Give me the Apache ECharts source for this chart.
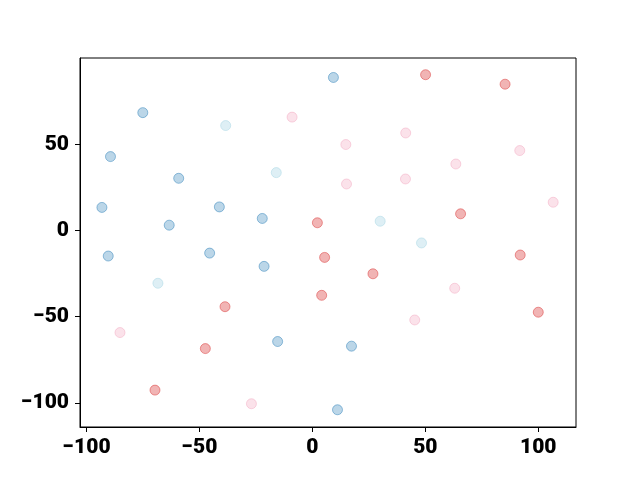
<!DOCTYPE html>
<html>
<head>
<meta charset="utf-8">
<script src="https://cdn.jsdelivr.net/npm/echarts@6/dist/echarts.min.js"></script>
<style>html,body{margin:0;padding:0;background:#fff}#c{width:640px;height:480px}</style>
</head>
<body>
<div id="c"></div>
<script>
const blueX = [9.3, -75.1, -89.4, -59.2, -93.2, -41.2, -22.2, -63.4, -90.4, -45.5, -21.4, -15.4, 17.3, 11.1];
const blueY = [88.8, 68.4, 42.9, 30.3, 13.4, 13.7, 7.0, 3.1, -14.8, -13.1, -20.8, -64.4, -67.1, -104.0];
const cyanX = [-38.4, -16.0, 30.0, 48.3, -68.4];
const cyanY = [60.9, 33.6, 5.4, -7.2, -30.6];
const redX = [50.1, 85.3, 2.2, 65.6, 5.4, 26.8, 4.1, -38.7, 92.0, 100.0, -47.4, -69.7];
const redY = [90.4, 84.9, 4.5, 9.7, -15.6, -25.1, -37.6, -44.2, -14.2, -47.4, -68.5, -92.6];
const pinkX = [-9.0, 14.8, 41.3, 63.5, 91.8, 15.1, 41.2, 106.6, 63.0, 45.3, -85.2, -27.0];
const pinkY = [65.8, 49.9, 56.6, 38.6, 46.4, 27.0, 29.9, 16.4, -33.5, -51.9, -59.2, -100.5];
const xTicks = [-100, -50, 0, 50, 100];
const yTicks = [-100, -50, 0, 50];

function pts(xs, ys) { return xs.map((x, i) => [x, ys[i]]); }
const font = {color: '#000', fontFamily: 'Roboto', fontWeight: 900, fontSize: 21};
function mk(name, xs, ys, fill, edge) {
  return {
    name: name, type: 'scatter', symbol: 'circle', symbolSize: 10,
    data: pts(xs, ys),
    itemStyle: {color: fill, borderColor: edge, borderWidth: 1, opacity: 1},
    emphasis: {disabled: true}, animation: false
  };
}
const chart = echarts.init(document.getElementById('c'), null, {renderer: 'canvas'});
chart.setOption({
  animation: false,
  backgroundColor: '#fff',
  grid: {left: 80, right: 64, top: 58, bottom: 53, show: true, borderColor: '#000', borderWidth: 1, backgroundColor: 'transparent'},
  xAxis: {
    type: 'value', min: -102.9, max: 116.7,
    splitLine: {show: false},
    axisLine: {show: true, onZero: false, lineStyle: {color: '#000', width: 1}},
    axisTick: {show: true, length: 5, lineStyle: {color: '#000'}, customValues: xTicks},
    axisLabel: Object.assign({margin: 10, customValues: xTicks, formatter: v => String(v).replace('-', '\u2212')}, font)
  },
  yAxis: {
    type: 'value', min: -114.0, max: 100.1,
    splitLine: {show: false},
    axisLine: {show: true, onZero: false, lineStyle: {color: '#000', width: 1}},
    axisTick: {show: true, length: 5, lineStyle: {color: '#000'}, customValues: yTicks},
    axisLabel: Object.assign({margin: 11, customValues: yTicks, formatter: v => String(v).replace('-', '\u2212')}, font)
  },
  series: [
    mk('blue', blueX, blueY, 'rgba(31,119,180,0.3)', 'rgba(31,119,180,0.45)'),
    mk('cyan', cyanX, cyanY, 'rgba(173,216,230,0.4)', 'rgba(173,216,230,0.55)'),
    mk('red', redX, redY, 'rgba(214,39,40,0.35)', 'rgba(214,39,40,0.45)'),
    mk('pink', pinkX, pinkY, 'rgba(240,150,180,0.28)', 'rgba(240,150,180,0.38)')
  ]
});
</script>
</body>
</html>
